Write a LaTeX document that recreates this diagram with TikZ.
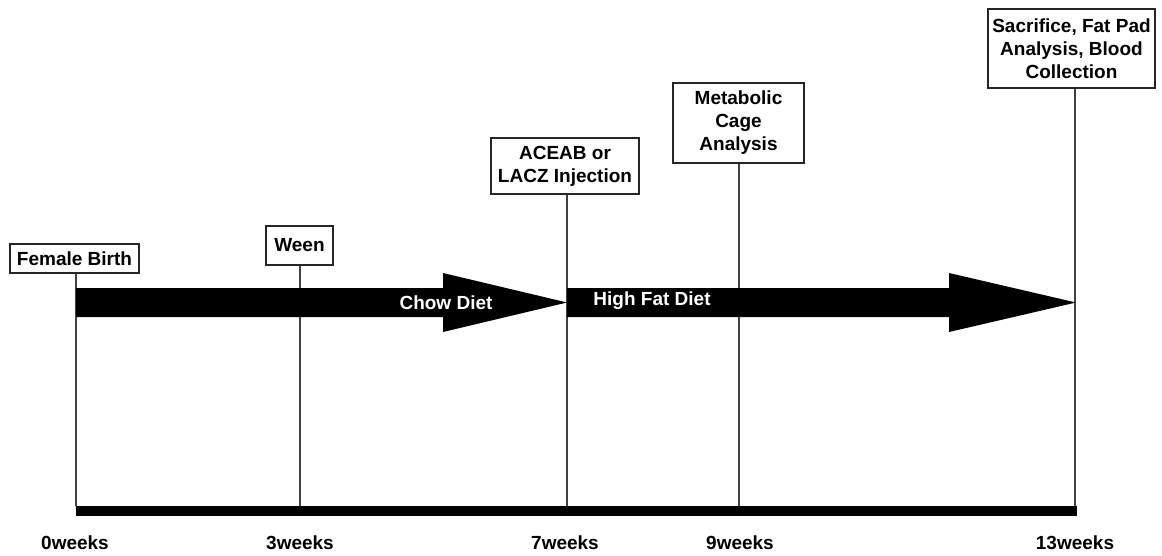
\documentclass[tikz,border=0pt]{standalone}
\usepackage{fontspec}
\setmainfont{Liberation Sans}
\begin{document}
\begin{tikzpicture}[x=1pt,y=-1pt,
  txt/.style={font=\bfseries\fontsize{19}{23}\selectfont},
  box/.style={txt,draw=black!85,line width=1.2pt,fill=white,inner sep=0pt,align=center},
  tick/.style={draw=black!75,line width=1.2pt},
  bigarrow/.style={fill=black,draw=none},
  weeklbl/.style={txt,inner sep=0pt},
  dietlbl/.style={txt,text=white,inner sep=0pt}]
\useasboundingbox[fill=white] (0,0) rectangle (1162,555);
% timeline anchor coordinates (top of bottom bar)
\coordinate (t0) at (76,506);
\coordinate (t3) at (300,506);
\coordinate (t7) at (567,506);
\coordinate (t9) at (739,506);
\coordinate (t13) at (1075,506);
% event boxes
\node[box,minimum width=129,minimum height=29] (fb) at (74.5,258.5) {Female Birth};
\node[box,minimum width=67,minimum height=39] (ween) at (299.5,245.5) {Ween};
\node[box,minimum width=148,minimum height=56] (inj) at (565,166) {ACEAB or\\LACZ Injection};
\node[box,minimum width=131,minimum height=80] (meta) at (738.5,123) {Metabolic\\Cage\\Analysis};
\node[box,minimum width=167,minimum height=79] (sac) at (1071.5,48.5) {Sacrifice, Fat Pad\\Analysis, Blood\\Collection};
% vertical connectors
\draw[tick] (t0 |- fb.south) -- (t0);
\draw[tick] (t3 |- ween.south) -- (t3);
\draw[tick] (t7 |- inj.south) -- (t7);
\draw[tick] (t9 |- meta.south) -- (t9);
\draw[tick] (t13 |- sac.south) -- (t13);
% diet arrows
\fill[bigarrow] (76,288) -- (443,288) -- (443,273) -- (567,302.5) -- (443,332) -- (443,317) -- (76,317) -- cycle;
\fill[bigarrow] (567,288) -- (949,288) -- (949,273) -- (1076,302.5) -- (949,332) -- (949,317) -- (567,317) -- cycle;
\node[dietlbl] (chow) at (446,303) {Chow Diet};
\node[dietlbl] (hfd) at (652,301) {High Fat Diet};
% bottom bar
\fill[black] (76,506) rectangle (1077,516);
% week labels
\node[weeklbl] (w0) at (75,543) {0weeks};
\node[weeklbl] (w3) at (300,543) {3weeks};
\node[weeklbl] (w7) at (565,543) {7weeks};
\node[weeklbl] (w9) at (740,543) {9weeks};
\node[weeklbl] (w13) at (1075,543) {13weeks};
\end{tikzpicture}
\end{document}
